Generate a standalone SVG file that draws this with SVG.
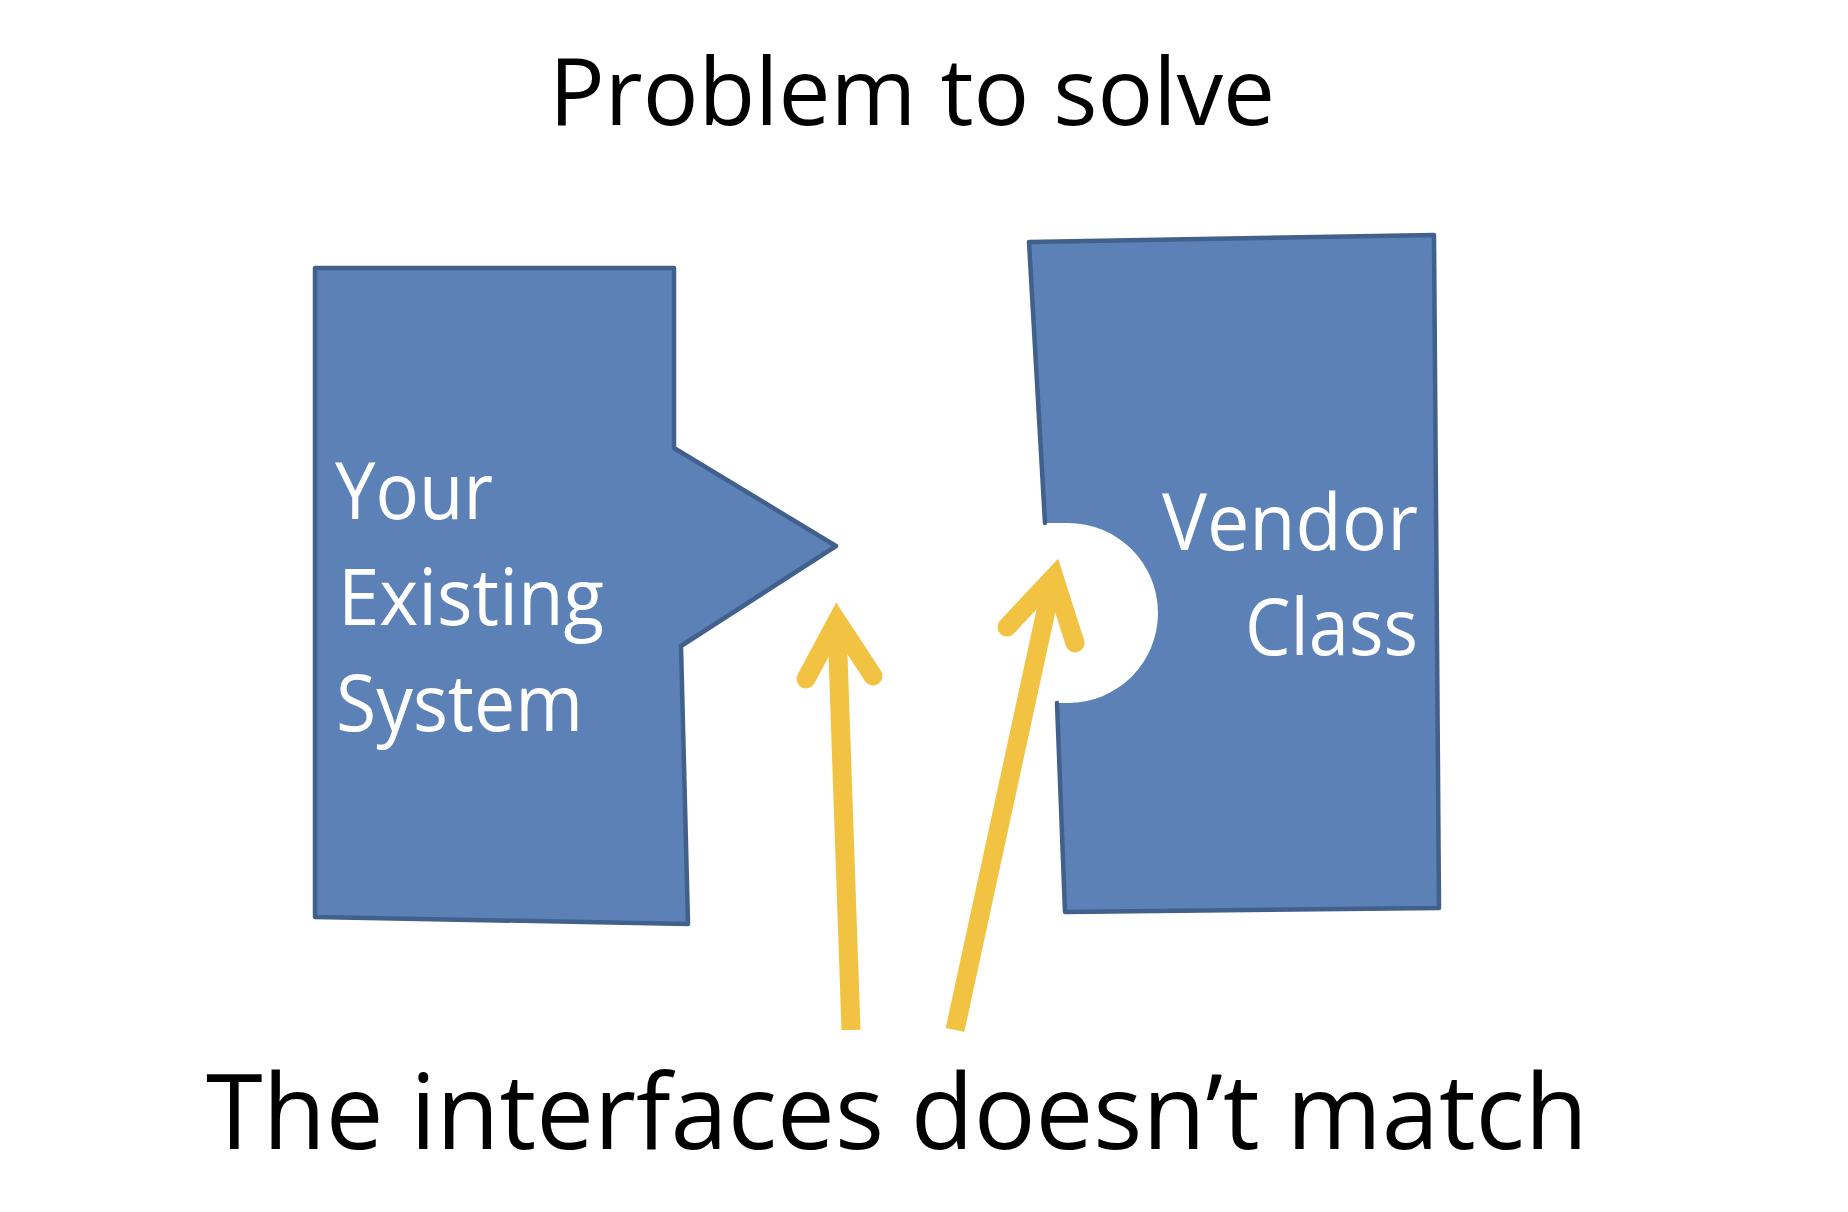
<svg xmlns="http://www.w3.org/2000/svg" width="1848" height="1212" viewBox="0 0 1848 1212">
<style>
.shape{fill:#5B81B7;stroke:#41608C;stroke-width:4.5;stroke-linejoin:round}
.edge{fill:none;stroke:#41608C;stroke-width:4.5;stroke-linejoin:round;stroke-linecap:round}
.lbl{font-family:"Open Sans","Noto Sans",sans-serif;fill:#FFFFFF;font-size:79px}
.cap{font-family:"Open Sans","Noto Sans",sans-serif;fill:#000000}
.shaft{fill:none;stroke:#F2C343;stroke-width:19;stroke-linecap:butt}
.head{fill:none;stroke:#F2C343;stroke-width:19;stroke-linecap:round;stroke-linejoin:miter;stroke-miterlimit:10}
</style>
<rect width="1848" height="1212" fill="#FFFFFF"/>
<text class="cap" x="549" y="125" font-size="94" textLength="726" lengthAdjust="spacingAndGlyphs">Problem to solve</text>
<g id="existing-system">
<polygon class="shape" points="315,268 674,268 674,448 836,546 681,646 688,924 315,917"/>
<text class="lbl" x="335" y="519" textLength="158" lengthAdjust="spacingAndGlyphs">Your</text>
<text class="lbl" x="338" y="625" textLength="266" lengthAdjust="spacingAndGlyphs">Existing</text>
<text class="lbl" x="336" y="731" textLength="247" lengthAdjust="spacingAndGlyphs">System</text>
</g>
<g id="vendor-class">
<path d="M1029,242 L1434,235 L1439,908 L1065,912 L1057,703 L1068,703 A90,90 0 0 0 1068,523 L1045,523 Z" fill="#5B81B7" stroke="none"/>
<path class="edge" d="M1057,703 L1065,912 L1439,908 L1434,235 L1029,242 L1045,523"/>
<text class="lbl" x="1162" y="550" textLength="256" lengthAdjust="spacingAndGlyphs">Vendor</text>
<text class="lbl" x="1245" y="655" textLength="173" lengthAdjust="spacingAndGlyphs">Class</text>
</g>
<g id="connectors">
<line class="shaft" x1="851" y1="1030" x2="837" y2="626"/>
<polyline class="head" points="806,679 837,621 873,676"/>
<line class="shaft" x1="955" y1="1030" x2="1052" y2="583"/>
<polyline class="head" points="1007,627 1054,577 1075,643"/>
</g>
<text class="cap" x="206" y="1149" font-size="105" textLength="1382" lengthAdjust="spacingAndGlyphs">The interfaces doesn’t match</text>
</svg>
